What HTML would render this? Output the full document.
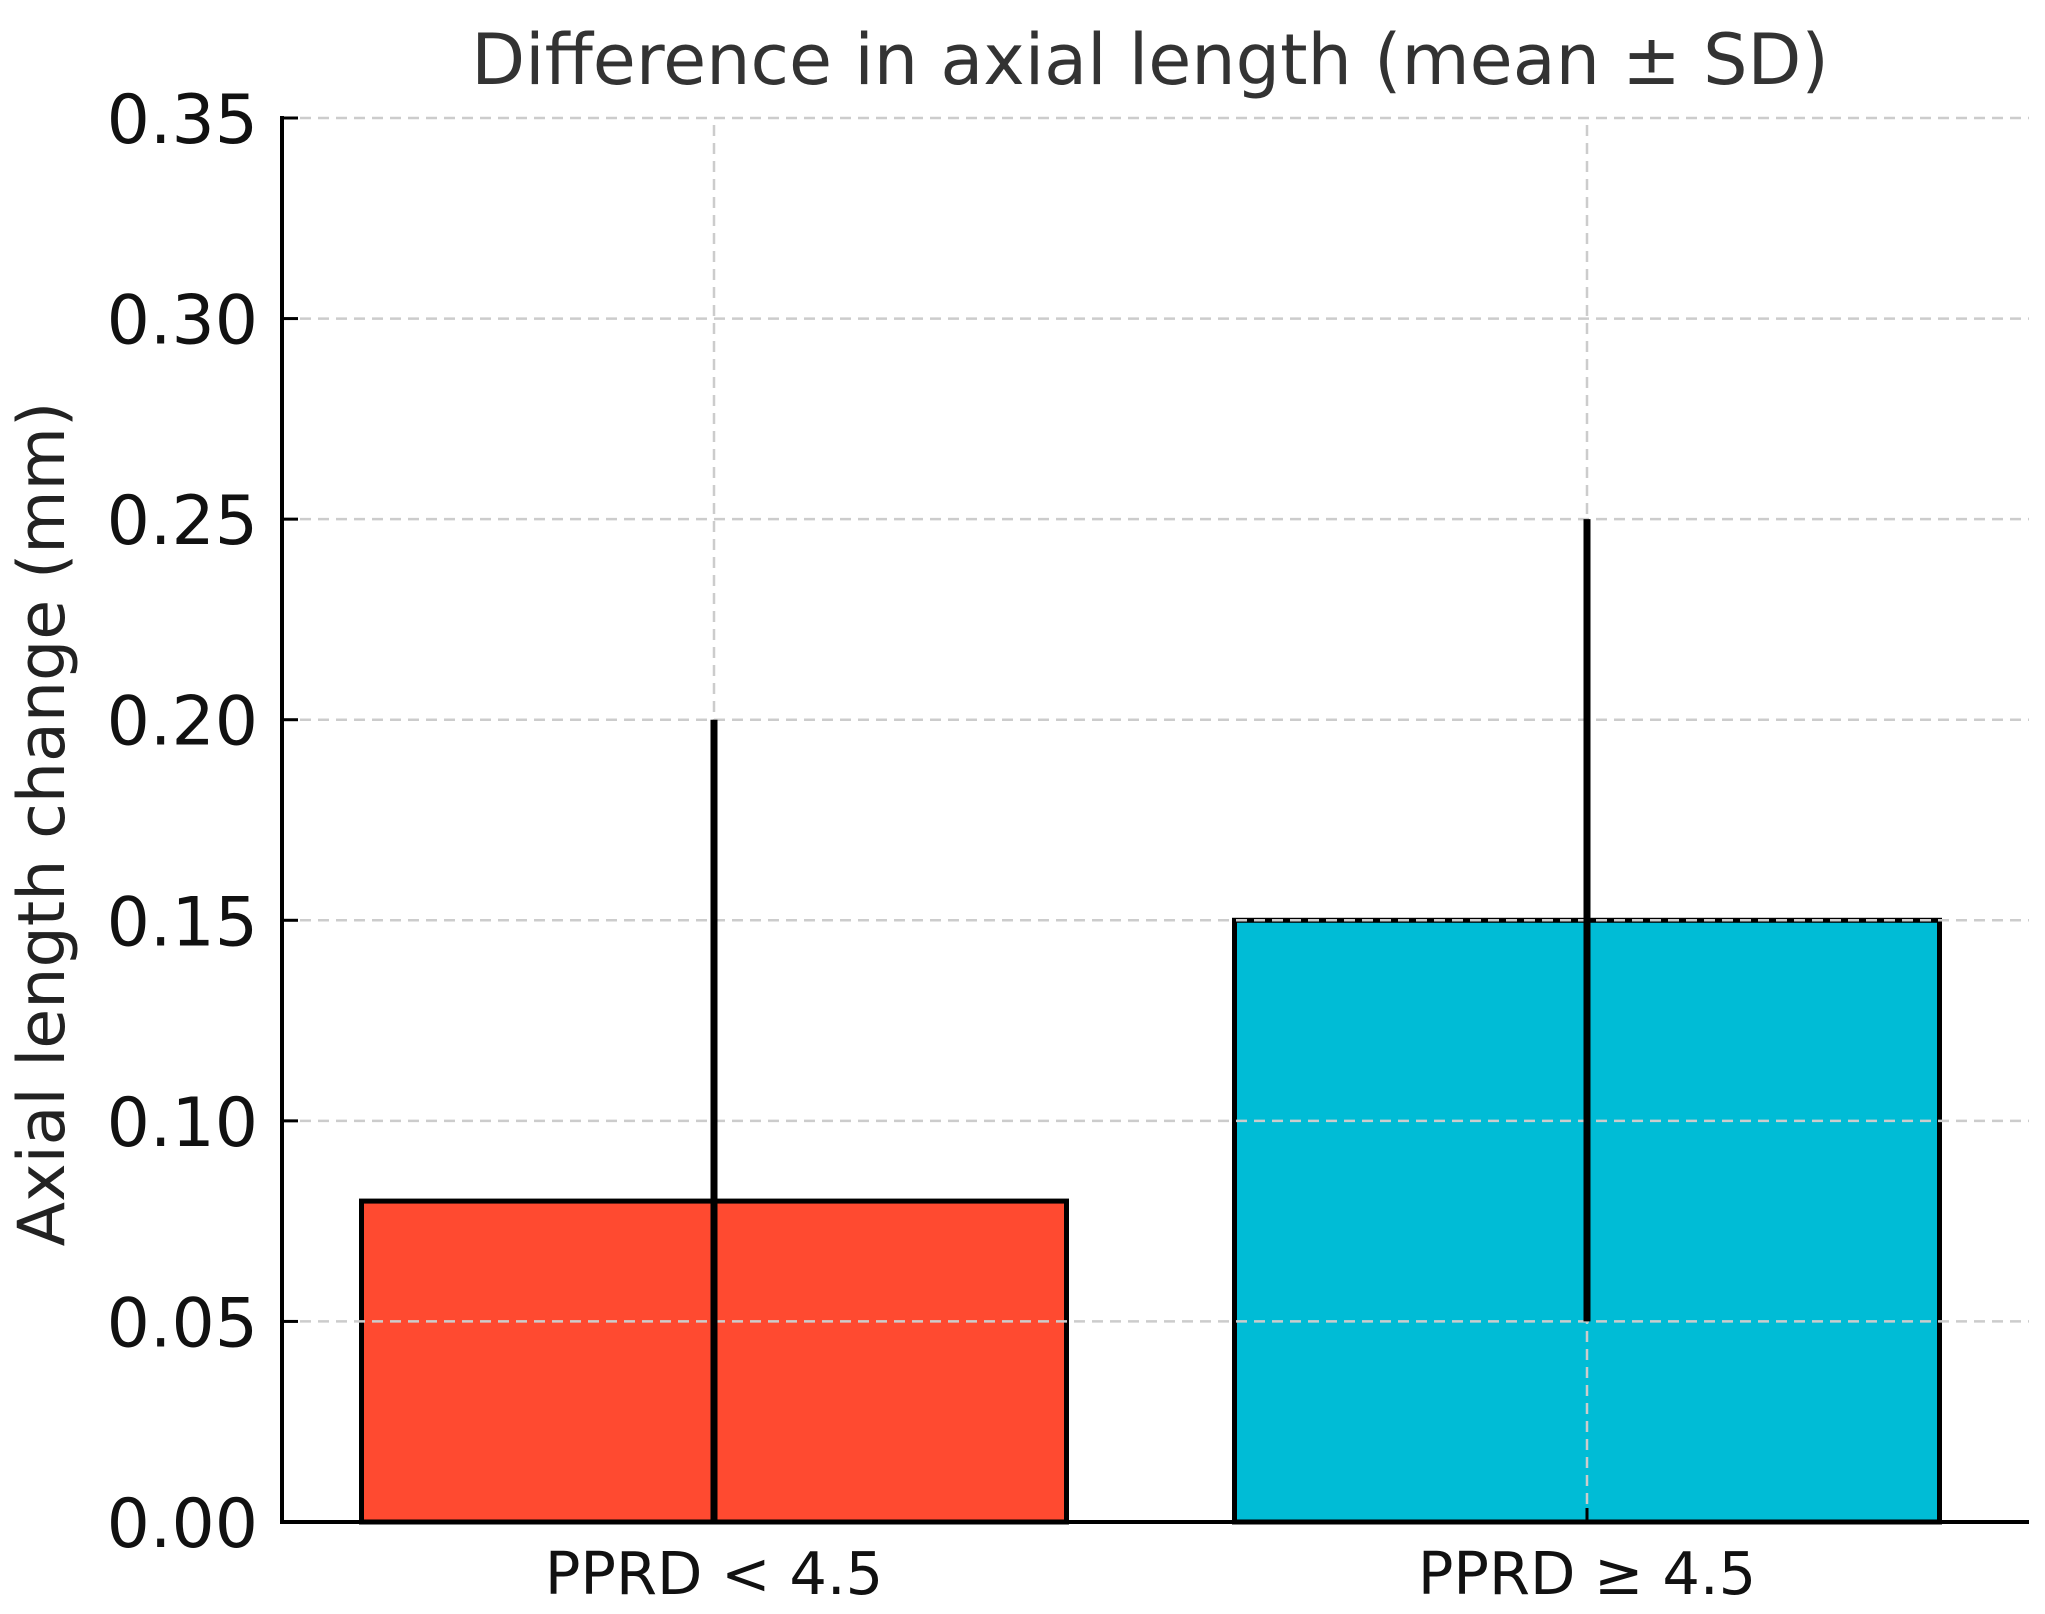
<!DOCTYPE html>
<html><head><meta charset="utf-8"><style>
html,body{margin:0;padding:0;background:#fff;}
svg{display:block;font-family:"DejaVu Sans","Liberation Sans",sans-serif;}
</style></head><body>
<svg id="chart" width="2045" height="1614" viewBox="0 0 2045 1614" xmlns="http://www.w3.org/2000/svg">
<text x="1150" y="84" font-size="70" fill="#333" text-anchor="middle">Difference in axial length (mean ± SD)</text>
<text transform="translate(64,824) rotate(-90)" font-size="65" fill="#222" text-anchor="middle">Axial length change (mm)</text>
<g id="bars"></g><g id="grid"></g><g id="errs"></g><g id="axes"></g>
</svg>
<script>
const categories = ["PPRD < 4.5", "PPRD ≥ 4.5"];
const means = [0.08, 0.15];
const sds = [0.12, 0.10];
const colors = ["#FF4A30", "#00BCD6"];
const yTicks = [0, 0.05, 0.10, 0.15, 0.20, 0.25, 0.30, 0.35];
const yTickLabels = ["0.00","0.05","0.10","0.15","0.20","0.25","0.30","0.35"];

const NS = "http://www.w3.org/2000/svg";
const X0 = 282, X1 = 2029, Y0 = 1522, Y1 = 118, YMAX = 0.35;
const centers0 = 714, step = 873, barW = 705;
function y(v){ return Y0 - (Math.max(0, v) / YMAX) * (Y0 - Y1); }
function x(i){ return centers0 + i * step; }
function mk(tag, attrs, parent){
  const e = document.createElementNS(NS, tag);
  for (const k in attrs) e.setAttribute(k, attrs[k]);
  document.getElementById(parent).appendChild(e);
  return e;
}
categories.forEach((c, i) => {
  const r = mk("rect", {x: x(i) - barW/2, y: y(means[i]), width: barW, height: Y0 - y(means[i]), fill: colors[i], stroke: "#000", "stroke-width": 5}, "bars");
  
  
  const t = mk("text", {x: x(i), y: 1594, "font-size": 59, fill: "#111", "text-anchor": "middle"}, "axes");
  t.textContent = c;
  
  
  const g = mk("line", {x1: x(i), x2: x(i), y1: Y0, y2: Y1, stroke: "#ccc", "stroke-width": 2.5, "stroke-dasharray": "11,7"}, "grid");
  
  
  const tk = mk("line", {x1: x(i), x2: x(i), y1: Y0, y2: Y0 - 14, stroke: "#000", "stroke-width": 3}, "axes");
  
  
  const e = mk("line", {x1: x(i), x2: x(i), y1: y(means[i] - sds[i]), y2: y(means[i] + sds[i]), stroke: "#000", "stroke-width": 7}, "errs");
  
  
});
yTicks.forEach((v, i) => {
  const g = mk("line", {x1: X0, x2: X1, y1: y(v), y2: y(v), stroke: "#ccc", "stroke-width": 2.5, "stroke-dasharray": "11,7"}, "grid");
  
  
  const tk = mk("line", {x1: X0, x2: X0 + 16, y1: y(v), y2: y(v), stroke: "#000", "stroke-width": 3}, "axes");
  
  
  const t = mk("text", {x: 258, y: y(v) + 25, "font-size": 68, fill: "#111", "text-anchor": "end"}, "axes");
  t.textContent = yTickLabels[i];
  
  
});
const ya = mk("line", {x1: X0, x2: X0, y1: Y1 - 2, y2: Y0 + 2, stroke: "#000", "stroke-width": 4}, "axes");


const xa = mk("line", {x1: X0 - 2, x2: X1, y1: Y0, y2: Y0, stroke: "#000", "stroke-width": 4}, "axes");


</script>
</body></html>
